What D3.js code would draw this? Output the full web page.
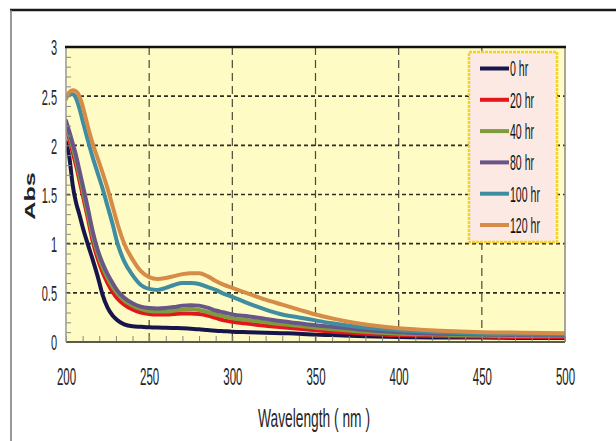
<!DOCTYPE html>
<html>
<head>
<meta charset="utf-8">
<script src="https://cdn.jsdelivr.net/npm/d3@7"></script>
<style>
  html, body { margin: 0; padding: 0; background: #fff; }
  svg { display: block; font-family: "Liberation Sans", Arial, sans-serif; }
</style>
</head>
<body>
<svg id="chart" width="616" height="441"></svg>
<script>
// UV-Vis absorbance spectra recorded at different exposure times
const wavelengths = [200,202,204,206,208,210,213,216,219,222,225,228,231,235,240,245,250,255,260,265,270,275,280,285,290,295,300,310,320,330,340,350,360,375,400,425,450,475,500];

const abs0hr   = [2.03,1.88,1.60,1.42,1.30,1.17,1.00,0.84,0.67,0.48,0.35,0.27,0.22,0.18,0.16,0.155,0.15,0.147,0.145,0.142,0.14,0.135,0.13,0.122,0.115,0.11,0.105,0.10,0.095,0.09,0.085,0.075,0.07,0.06,0.05,0.045,0.045,0.04,0.04];
const abs20hr  = [2.17,2.06,1.93,1.80,1.65,1.50,1.27,1.03,0.85,0.71,0.60,0.51,0.44,0.38,0.33,0.30,0.285,0.28,0.28,0.285,0.29,0.29,0.285,0.27,0.245,0.22,0.205,0.185,0.165,0.15,0.135,0.12,0.105,0.09,0.07,0.06,0.055,0.05,0.05];
const abs40hr  = [2.21,2.10,1.98,1.85,1.70,1.55,1.32,1.08,0.90,0.76,0.65,0.56,0.49,0.42,0.37,0.335,0.315,0.31,0.31,0.32,0.33,0.335,0.325,0.305,0.28,0.26,0.24,0.22,0.20,0.18,0.165,0.145,0.13,0.11,0.085,0.075,0.065,0.06,0.06];
const abs80hr  = [2.25,2.14,2.02,1.90,1.75,1.60,1.37,1.13,0.94,0.80,0.69,0.60,0.52,0.45,0.395,0.36,0.345,0.34,0.345,0.355,0.37,0.375,0.37,0.35,0.32,0.30,0.28,0.26,0.235,0.21,0.19,0.17,0.155,0.13,0.10,0.085,0.075,0.07,0.065];
const abs100hr = [2.50,2.52,2.52,2.48,2.38,2.25,2.06,1.88,1.72,1.56,1.38,1.20,1.00,0.82,0.68,0.58,0.54,0.53,0.55,0.58,0.60,0.60,0.59,0.56,0.53,0.49,0.46,0.39,0.33,0.28,0.25,0.22,0.19,0.155,0.12,0.10,0.085,0.08,0.075];
const abs120hr = [2.47,2.54,2.56,2.55,2.50,2.40,2.20,2.02,1.87,1.72,1.56,1.38,1.20,1.00,0.84,0.72,0.66,0.64,0.65,0.67,0.69,0.70,0.70,0.67,0.62,0.58,0.55,0.49,0.43,0.38,0.33,0.28,0.24,0.19,0.14,0.115,0.10,0.095,0.09];

const seriesNames = ["0 hr", "20 hr", "40 hr", "80 hr", "100 hr", "120 hr"];
const seriesValues = [abs0hr, abs20hr, abs40hr, abs80hr, abs100hr, abs120hr];
const seriesColors = ["#16194d", "#e3171d", "#7f9c3d", "#675689", "#3f8ca1", "#d68b46"];

const xTicks = [200, 250, 300, 350, 400, 450, 500];
const yTicks = [0, 0.5, 1, 1.5, 2, 2.5, 3];

const svg = d3.select("#chart");

// outer frame of the figure
svg.append("line").attr("x1", 10).attr("x2", 616).attr("y1", 10).attr("y2", 10)
  .attr("stroke", "#1a1a1a").attr("stroke-width", 2.5);
svg.append("line").attr("x1", 11).attr("x2", 11).attr("y1", 10).attr("y2", 441)
  .attr("stroke", "#777").attr("stroke-width", 1.5);

const plot = { left: 66, right: 565, top: 47, bottom: 342 };

const x = d3.scaleLinear().domain([200, 500]).range([plot.left, plot.right]);
const y = d3.scaleLinear().domain([0, 3]).range([plot.bottom, plot.top]);

const defs = svg.append("defs");
defs.append("clipPath").attr("id", "plotClip")
  .append("rect").attr("x", plot.left).attr("y", plot.top)
  .attr("width", plot.right - plot.left).attr("height", plot.bottom - plot.top);
defs.append("filter").attr("id", "soft")
  .attr("filterUnits", "userSpaceOnUse")
  .attr("x", -50).attr("y", -50).attr("width", 716).attr("height", 541)
  .append("feGaussianBlur").attr("stdDeviation", 0.7);

// plot background
svg.append("rect")
  .attr("x", plot.left).attr("y", plot.top)
  .attr("width", plot.right - plot.left).attr("height", plot.bottom - plot.top)
  .attr("fill", "#fefbc4");

// vertical dashed grid
svg.append("g")
  .selectAll("line")
  .data(xTicks.filter(d => d > 200 && d < 500))
  .join("line")
  .attr("x1", d => x(d)).attr("x2", d => x(d))
  .attr("y1", plot.top).attr("y2", plot.bottom)
  .attr("stroke", "#4a4a3a").attr("stroke-width", 1.2)
  .attr("stroke-dasharray", "8,5");

// horizontal dashed grid
svg.append("g")
  .selectAll("line")
  .data(yTicks.filter(d => d > 0 && d < 3))
  .join("line")
  .attr("x1", plot.left).attr("x2", plot.right)
  .attr("y1", d => y(d)).attr("y2", d => y(d))
  .attr("stroke", "#2e2e20").attr("stroke-width", 1.6)
  .attr("stroke-dasharray", "4,3");

// spectra
const line = d3.line()
  .x((d, i) => x(wavelengths[i]))
  .y(d => y(d))
  .curve(d3.curveMonotoneX);

svg.append("g")
  .attr("clip-path", "url(#plotClip)")
  .attr("filter", "url(#soft)")
  .selectAll("path")
  .data(seriesValues)
  .join("path")
  .attr("d", d => line(d))
  .attr("fill", "none")
  .attr("stroke", (d, i) => seriesColors[i])
  .attr("stroke-width", 4)
  .attr("stroke-linejoin", "round")
  .attr("stroke-linecap", "round");

// axes
const xAxisMinor = d3.axisTop(x).tickValues(d3.range(200, 501, 10)).tickSize(6).tickFormat("");
const gxm = svg.append("g").attr("transform", `translate(0,${plot.bottom})`).call(xAxisMinor);
gxm.selectAll("line").attr("stroke", "#8a8a80");
gxm.select(".domain").remove();

const yAxisMinor = d3.axisRight(y).tickValues(d3.range(0, 31).map(v => v / 10)).tickSize(5).tickFormat("");
const gym = svg.append("g").attr("transform", `translate(${plot.left},0)`).call(yAxisMinor);
gym.selectAll("line").attr("stroke", "#8a8a80");
gym.select(".domain").remove();

// plot frame
svg.append("line").attr("x1", plot.left).attr("x2", plot.right).attr("y1", plot.bottom).attr("y2", plot.bottom)
  .attr("stroke", "#5a5a50").attr("stroke-width", 1.8);
svg.append("line").attr("x1", plot.left).attr("x2", plot.left).attr("y1", plot.top).attr("y2", plot.bottom)
  .attr("stroke", "#9a9a90").attr("stroke-width", 1.5);
svg.append("line").attr("x1", plot.right).attr("x2", plot.right).attr("y1", plot.top).attr("y2", plot.bottom)
  .attr("stroke", "#8a8a80").attr("stroke-width", 1.5);
svg.append("line").attr("x1", plot.left - 1).attr("x2", plot.right + 1).attr("y1", plot.top).attr("y2", plot.top)
  .attr("stroke", "#111").attr("stroke-width", 2.5);

// tick labels (tall, condensed lettering)
const xAxis = d3.axisBottom(x).tickValues(xTicks).tickSize(0).tickPadding(0).tickFormat(d => String(d));
const gx = svg.append("g").attr("transform", `translate(0,${plot.bottom})`).call(xAxis);
gx.select(".domain").remove();
gx.selectAll("text")
  .attr("x", 0).attr("y", 0).attr("dy", null)
  .attr("font-size", 23).attr("fill", "#262626")
  .attr("transform", "translate(0,43) scale(0.5,1)");

const yAxis = d3.axisLeft(y).tickValues(yTicks).tickSize(0).tickPadding(0).tickFormat(d => String(d));
const gy = svg.append("g").attr("transform", `translate(${plot.left},0)`).call(yAxis);
gy.select(".domain").remove();
gy.selectAll("text")
  .attr("x", 0).attr("dy", "0.36em")
  .attr("font-size", 22).attr("fill", "#262626")
  .attr("transform", "translate(-9,0) scale(0.5,1)");

// axis titles
svg.append("text")
  .attr("transform", "translate(314,427) scale(0.53,1)")
  .attr("text-anchor", "middle")
  .attr("font-size", 26).attr("fill", "#262626")
  .text("Wavelength ( nm )");

svg.append("text")
  .attr("transform", "translate(35,196) rotate(-90) scale(1.8,1)")
  .attr("text-anchor", "middle")
  .attr("font-size", 14).attr("font-weight", "bold").attr("fill", "#222")
  .text("Abs");

// legend
const legend = svg.append("g");
legend.append("rect")
  .attr("x", 469).attr("y", 52).attr("width", 88).attr("height", 190)
  .attr("fill", "#fce9e3")
  .attr("stroke", "#f2d22a").attr("stroke-width", 2.5)
  .attr("stroke-dasharray", "3,1");

const items = legend.selectAll("g.item")
  .data(seriesNames)
  .join("g")
  .attr("class", "item")
  .attr("transform", (d, i) => `translate(480,${68.5 + i * 31.3})`);

items.append("line")
  .attr("x1", 0).attr("x2", 29)
  .attr("stroke", (d, i) => seriesColors[i])
  .attr("stroke-width", 4)
  .attr("filter", "url(#soft)");

items.append("text")
  .attr("transform", "translate(30,0) scale(0.48,1)")
  .attr("dy", "0.36em")
  .attr("font-size", 22).attr("fill", "#111")
  .text(d => d);
</script>
</body>
</html>
